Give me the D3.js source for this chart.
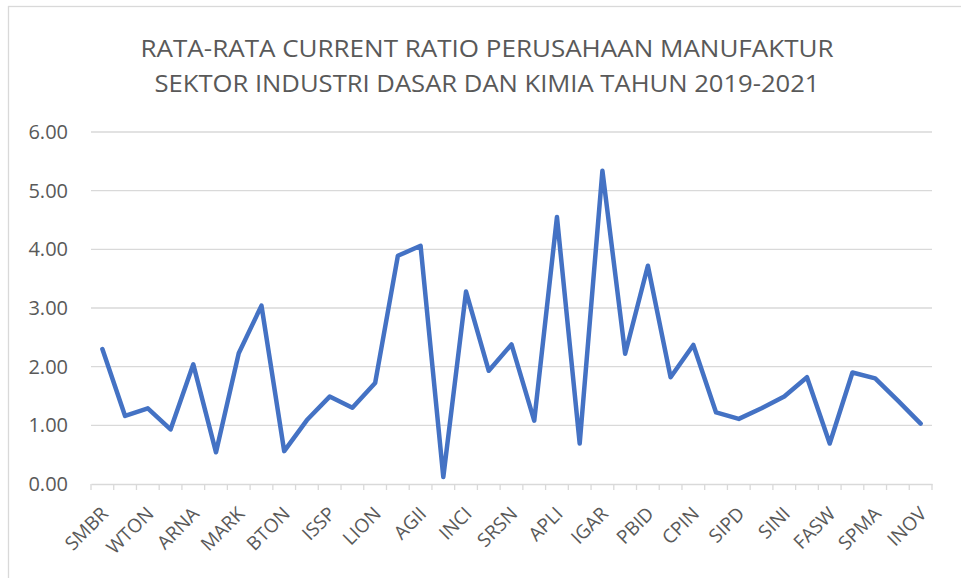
<!DOCTYPE html>
<html>
<head>
<meta charset="utf-8">
<script src="https://cdn.jsdelivr.net/npm/d3@7"></script>
<style>
  body { margin: 0; background: #fff; }
  svg text { font-family: "Open Sans", sans-serif; fill: #595959; }
</style>
</head>
<body>
<svg id="chart" width="961" height="578"></svg>
<script>
// categories (only every other one is labelled on the axis)
var companies = ['SMBR','INTP','WTON','SMCB','ARNA','AMFG','MARK','TOTO','BTON','GDST',
  'ISSP','KRAS','LION','ALKA','AGII','BRPT','INCI','EKAD','SRSN','TPIA',
  'APLI','AKPI','IGAR','IMPC','PBID','TRST','CPIN','JPFA','SIPD','MAIN',
  'SINI','ALDO','FASW','INKP','SPMA','TKIM','INOV'];
var currentRatio = [2.30,1.16,1.29,0.93,2.04,0.54,2.23,3.04,0.56,1.09,
  1.49,1.30,1.72,3.89,4.06,0.12,3.28,1.93,2.38,1.08,
  4.55,0.69,5.34,2.22,3.72,1.82,2.37,1.22,1.11,1.29,
  1.49,1.82,0.69,1.90,1.80,1.42,1.03];
var yTicks = [0,1,2,3,4,5,6];
var titleLines = ['RATA-RATA CURRENT RATIO PERUSAHAAN MANUFAKTUR',
  'SEKTOR INDUSTRI DASAR DAN KIMIA TAHUN 2019-2021'];
var titleWidths = [693, 665];

var svg = d3.select('#chart');

// chart border
svg.append('rect')
  .attr('x', 8.5).attr('y', 6.5)
  .attr('width', 970).attr('height', 600)
  .attr('fill', 'none').attr('stroke', '#d9d9d9').attr('stroke-width', 1.3);

var x = d3.scaleBand().domain(companies).range([91, 932]);
var y = d3.scaleLinear().domain([0, 6]).range([484, 132]);

// title
svg.selectAll('.title').data(titleLines).enter().append('text')
  .attr('class', 'title')
  .attr('x', 487).attr('y', function(d, i){ return 57 + i*35; })
  .attr('text-anchor', 'middle')
  .attr('textLength', function(d, i){ return titleWidths[i]; })
  .attr('lengthAdjust', 'spacingAndGlyphs')
  .style('font-size', '24px')
  .text(function(d){ return d; });

// gridlines
svg.append('g').selectAll('line').data(yTicks.slice(1)).enter().append('line')
  .attr('x1', 91).attr('x2', 932)
  .attr('y1', function(d){ return y(d); }).attr('y2', function(d){ return y(d); })
  .attr('stroke', '#d9d9d9').attr('stroke-width', 1.3);

// y axis labels
svg.append('g').selectAll('text').data(yTicks).enter().append('text')
  .attr('x', 68).attr('y', function(d){ return y(d); })
  .attr('dy', '0.35em')
  .attr('text-anchor', 'end')
  .style('font-size', '20px')
  .text(function(d){ return d3.format('.2f')(d); });

// x axis
var xAxis = d3.axisBottom(x)
  .tickSizeInner(0).tickSizeOuter(0)
  .tickFormat(function(d, i){ return i % 2 === 0 ? d : ''; });
var gx = svg.append('g').attr('transform', 'translate(0,484)').call(xAxis);
gx.select('.domain').attr('stroke', '#d9d9d9').attr('stroke-width', 1.3);
gx.selectAll('.tick line').remove();
gx.selectAll('.tick text')
  .attr('y', 0).attr('dy', 0)
  .attr('text-anchor', 'end')
  .attr('transform', 'translate(7,31) rotate(-45)')
  .style('font-size', '19px')
  .style('font-family', '"Open Sans", sans-serif')
  .attr('fill', '#595959');

// boundary tick marks between categories
var bounds = companies.map(function(d){ return x(d); }).concat([932]);
svg.append('g').selectAll('line').data(bounds).enter().append('line')
  .attr('x1', function(d){ return d; }).attr('x2', function(d){ return d; })
  .attr('y1', 484).attr('y2', 490)
  .attr('stroke', '#d9d9d9').attr('stroke-width', 1.3);

// line
var line = d3.line()
  .x(function(d, i){ return x(companies[i]) + x.bandwidth()/2; })
  .y(function(d){ return y(d); });
svg.append('path').datum(currentRatio)
  .attr('d', line)
  .attr('fill', 'none')
  .attr('stroke', '#4472C4')
  .attr('stroke-width', 4.5)
  .attr('stroke-linejoin', 'round')
  .attr('stroke-linecap', 'round');
</script>
</body>
</html>
